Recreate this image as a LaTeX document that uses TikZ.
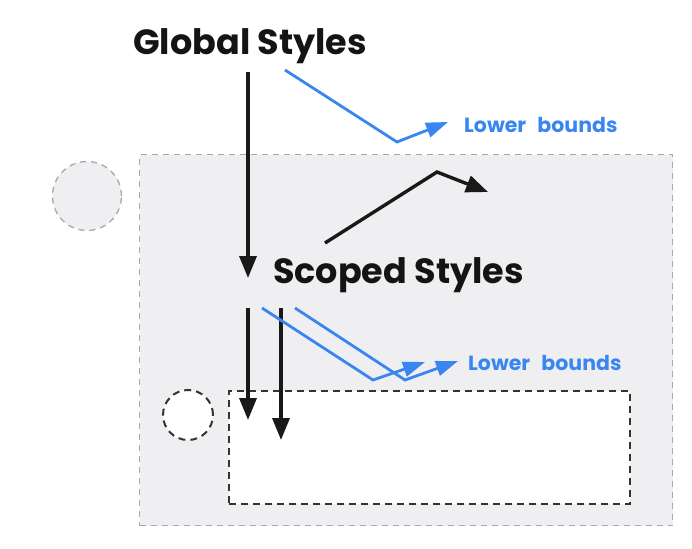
\documentclass[tikz,border=0pt]{standalone}
\usepackage{fontspec}
\setmainfont{Poppins}
\usetikzlibrary{arrows.meta}
\definecolor{gblue}{HTML}{3A86F0}
\definecolor{gfill}{HTML}{EFEFF1}
\definecolor{gdash}{HTML}{A8A8AA}
\definecolor{dkdash}{HTML}{333333}
\tikzset{
  title/.style={font=\fontsize{35}{35}\selectfont\bfseries, text=black!92, inner sep=0pt, anchor=base west},
  bound/.style={font=\fontsize{20.5}{20.5}\selectfont\bfseries, text=gblue, inner sep=0pt, anchor=west},
  blk/.style={line width=3.4pt, black!90, -{Triangle[length=22pt,width=17pt]}},
  blu/.style={line width=2.8pt, gblue, -{Triangle[length=22pt,width=15pt]}},
  outerbox/.style={draw=gdash, fill=gfill, dash pattern=on 6pt off 5pt, line width=1.3pt},
  innerbox/.style={draw=dkdash, fill=white, dash pattern=on 7pt off 5pt, line width=2pt},
}
\begin{document}
\begin{tikzpicture}[x=1pt,y=-1pt]
\useasboundingbox[fill=white] (0,0) rectangle (692,548);
% containers
\node[outerbox, rectangle, minimum width=533pt, minimum height=371pt, anchor=north west, inner sep=0pt] (outer) at (139,154) {};
\node[outerbox, circle, minimum size=69pt, inner sep=0pt] (gcirc) at (87,196) {};
\node[innerbox, rectangle, minimum width=401pt, minimum height=113pt, anchor=north west, inner sep=0pt] (inner) at (228,390) {};
\node[innerbox, circle, minimum size=50pt, inner sep=0pt] (icirc) at (188,415) {};
% texts
\node[title] (global) at (133,55) {Global Styles};
\node[title] (scoped) at (273,283) {Scoped Styles};
\node[bound] (lb1) at (464,125) {Lower\hspace{0.55em}bounds};
\node[bound] (lb2) at (468,363) {Lower\hspace{0.55em}bounds};
% coordinates
\coordinate (g1) at (248,72);
\coordinate (g2) at (248,278);
\coordinate (b1) at (285,70);
\coordinate (b1v) at (397,142);
\coordinate (b1t) at (448,122);
\coordinate (s1) at (325,243);
\coordinate (s1v) at (437,172);
\coordinate (s1t) at (488,192);
\coordinate (a1) at (248,308);
\coordinate (a1t) at (248,420);
\coordinate (a2) at (281,308);
\coordinate (a2t) at (281,440);
\coordinate (c1) at (262,308);
\coordinate (c1v) at (373,380);
\coordinate (c1t) at (425,362);
\coordinate (c2) at (295,308);
\coordinate (c2v) at (405,380);
\coordinate (c2t) at (458,361);
% connectors
\draw[blk] (g1) -- (g2);
\draw[blu] (b1) -- (b1v) -- (b1t);
\draw[blk] (s1) -- (s1v) -- (s1t);
\draw[blk] (a1) -- (a1t);
\draw[blk] (a2) -- (a2t);
\draw[blu] (c1) -- (c1v) -- (c1t);
\draw[blu] (c2) -- (c2v) -- (c2t);
\end{tikzpicture}
\end{document}
